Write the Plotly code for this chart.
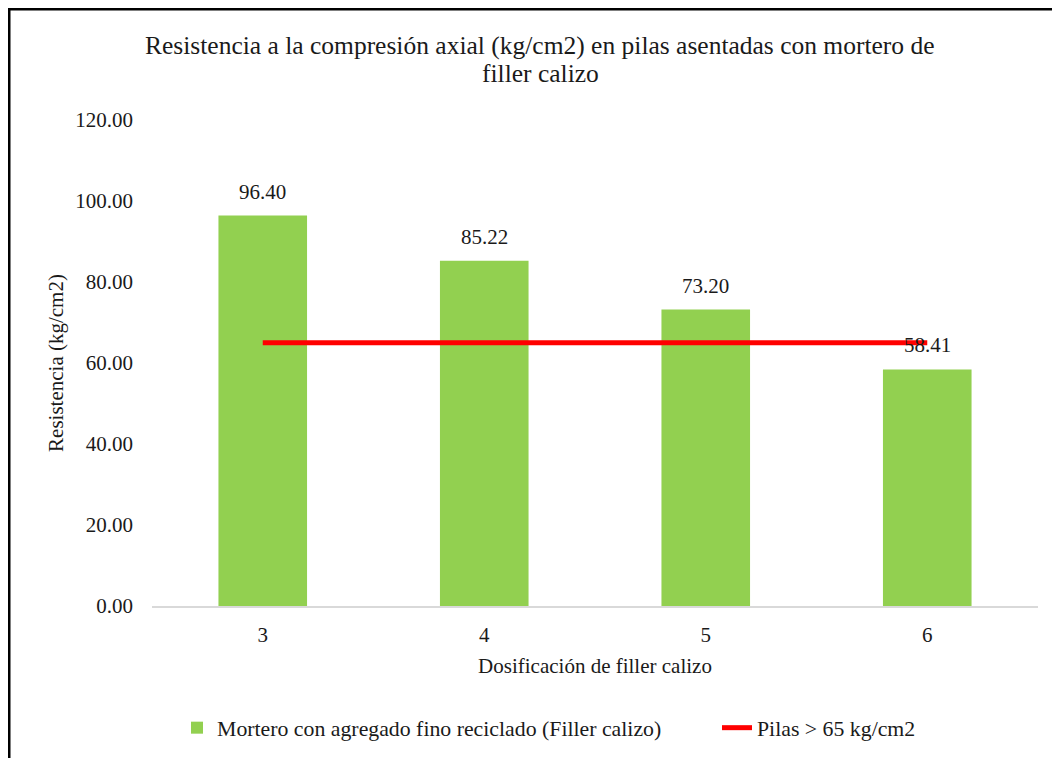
import plotly.graph_objects as go

categories = ["3", "4", "5", "6"]
resistencia = [96.40, 85.22, 73.20, 58.41]
limite = [65, 65, 65, 65]
y_ticks = [0, 20, 40, 60, 80, 100, 120]
title_lines = ["Resistencia a la compresión axial (kg/cm2) en pilas asentadas con mortero de",
               "filler calizo"]

FONT = "Liberation Serif, Times New Roman, serif"
TXT = "#1a1a1a"

# page body has an 8px margin; work in figure coords = screen - 8
OFF = 8
W, H = 1060 - OFF, 758 - OFF
L, R, T, B = 152 - OFF, 1060 - 1038, 120 - OFF, 758 - 606
PW, PH = W - L - R, H - T - B


def px_x(sx):
    return (sx - OFF - L) / PW


def px_y(sy):
    return (H - B - (sy - OFF)) / PH


fig = go.Figure()
fig.add_trace(go.Bar(
    x=categories, y=resistencia,
    name="Mortero con agregado fino reciclado (Filler calizo)",
    marker=dict(color="#92D050", line=dict(width=0)),
    legend="legend",
))
fig.add_trace(go.Scatter(
    x=categories, y=limite, mode="lines",
    name="Pilas > 65 kg/cm2",
    line=dict(color="#FF0000", width=5),
    legend="legend2",
))

# data labels (category index positions on the category axis)
for i, v in enumerate(resistencia):
    fig.add_annotation(x=i, y=v, text=f"{v:.2f}", showarrow=False,
                       yanchor="middle", yshift=24,
                       font=dict(family=FONT, size=21, color=TXT))

# title lines
for i, line in enumerate(title_lines):
    fig.add_annotation(xref="paper", yref="paper", x=px_x(540), y=px_y(45.5 + 28 * i),
                       text=line, showarrow=False, xanchor="center", yanchor="middle",
                       font=dict(family=FONT, size=25.5, color=TXT))

# chart border (left and top)
fig.add_shape(type="line", xref="paper", yref="paper",
              x0=px_x(9), x1=px_x(9), y0=px_y(800), y1=px_y(8),
              line=dict(color="#000000", width=3))
fig.add_shape(type="line", xref="paper", yref="paper",
              x0=px_x(8), x1=px_x(1100), y0=px_y(9), y1=px_y(9),
              line=dict(color="#000000", width=3))

leg_common = dict(orientation="h", xanchor="left", yanchor="middle",
                  font=dict(family=FONT, size=21.8, color=TXT),
                  bgcolor="rgba(0,0,0,0)")

fig.update_layout(
    width=W, height=H,
    margin=dict(l=L, r=R, t=T, b=B, autoexpand=False),
    paper_bgcolor="white", plot_bgcolor="white",
    font=dict(family=FONT, size=21, color=TXT),
    bargap=0.6,
    showlegend=True,
    legend=dict(x=px_x(177), y=px_y(728), **leg_common),
    legend2=dict(x=px_x(717), y=px_y(728), **leg_common),
    xaxis=dict(
        type="category", showline=True, linecolor="#D9D9D9", linewidth=2,
        showgrid=False, ticks="", tickfont=dict(size=21),
        ticklabelstandoff=9,
        title=dict(text="Dosificación de filler calizo", standoff=12,
                   font=dict(size=21)),
    ),
    yaxis=dict(
        range=[0, 120], tickvals=y_ticks, tickformat=".2f",
        showgrid=False, zeroline=False, showline=False, ticks="",
        ticklabelstandoff=18, tickfont=dict(size=21),
        title=dict(text="Resistencia (kg/cm2)", standoff=5,
                   font=dict(size=21)),
    ),
)

fig.write_html("out.html")
